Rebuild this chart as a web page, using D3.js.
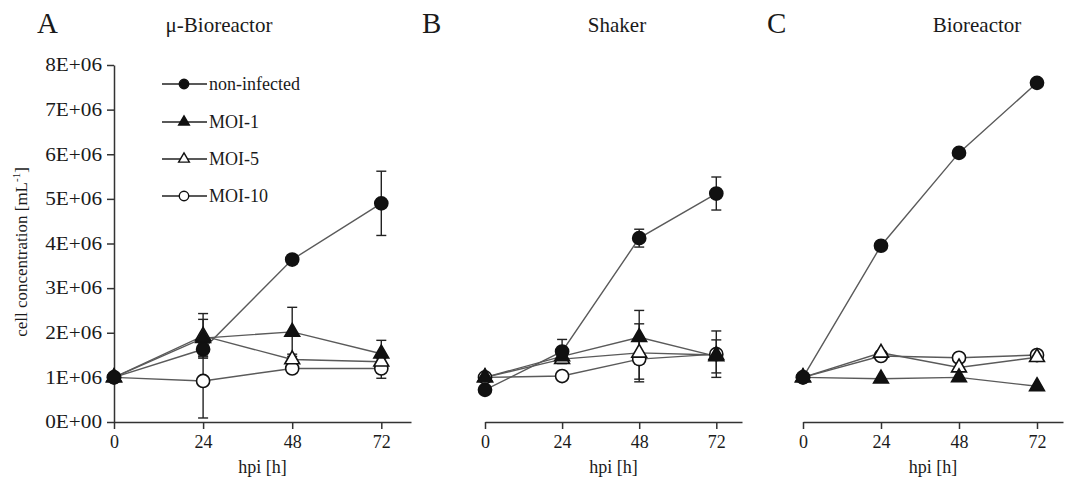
<!DOCTYPE html>
<html>
<head>
<meta charset="utf-8">
<script src="https://cdn.jsdelivr.net/npm/d3@7"></script>
<style>
  body { margin: 0; background: #fff; }
  svg text { font-family: "Liberation Serif", "Times New Roman", serif; fill: #1a1a1a; }
</style>
</head>
<body>
<svg id="chart" width="1068" height="483"></svg>
<script>
// time points (hours post infection)
let hours = [0, 24, 48, 72];
let seriesNames = ['non-infected', 'MOI-1', 'MOI-5', 'MOI-10'];
let panelLetters = ['A', 'B', 'C'];
let panelTitles = ['\u03bc-Bioreactor', 'Shaker', 'Bioreactor'];
let yTicks = [0, 1e6, 2e6, 3e6, 4e6, 5e6, 6e6, 7e6, 8e6];

// cell concentration, values in 1E+06 / mL, one array per panel and series
let microNonInf = [1.0, 1.63, 3.64, 4.9];
let microMoi1 = [1.0, 1.88, 2.02, 1.53];
let microMoi5 = [1.0, 1.93, 1.4, 1.35];
let microMoi10 = [1.0, 0.92, 1.2, 1.2];
let shakerNonInf = [0.72, 1.58, 4.12, 5.12];
let shakerMoi1 = [1.0, 1.47, 1.9, 1.47];
let shakerMoi5 = [1.0, 1.41, 1.55, 1.5];
let shakerMoi10 = [1.0, 1.03, 1.41, 1.52];
let bioNonInf = [1.0, 3.95, 6.03, 7.6];
let bioMoi1 = [1.0, 0.97, 1.0, 0.8];
let bioMoi5 = [1.0, 1.55, 1.22, 1.45];
let bioMoi10 = [1.0, 1.48, 1.44, 1.5];

// standard deviations (same units), 0 = no visible bar
let microNonInfErr = [0, 0.15, 0.1, 0.72];
let microMoi1Err = [0, 0.42, 0.55, 0.3];
let microMoi5Err = [0, 0.5, 0.12, 0];
let microMoi10Err = [0, 0.83, 0.05, 0.22];
let shakerNonInfErr = [0, 0.27, 0.2, 0.37];
let shakerMoi1Err = [0, 0.12, 0.6, 0.37];
let shakerMoi5Err = [0, 0, 0.65, 0];
let shakerMoi10Err = [0, 0, 0.45, 0.52];
let bioNonInfErr = [0, 0, 0, 0];
let bioMoi1Err = [0, 0, 0, 0];
let bioMoi5Err = [0, 0, 0, 0];
let bioMoi10Err = [0, 0, 0, 0];

let panelValues = [
    [microNonInf, microMoi1, microMoi5, microMoi10],
    [shakerNonInf, shakerMoi1, shakerMoi5, shakerMoi10],
    [bioNonInf, bioMoi1, bioMoi5, bioMoi10]
];
let panelErrors = [
    [microNonInfErr, microMoi1Err, microMoi5Err, microMoi10Err],
    [shakerNonInfErr, shakerMoi1Err, shakerMoi5Err, shakerMoi10Err],
    [bioNonInfErr, bioMoi1Err, bioMoi5Err, bioMoi10Err]
];

// marker style per series
let markerShape = [d3.symbolCircle, d3.symbolTriangle, d3.symbolTriangle, d3.symbolCircle];
let markerFill = ['#111', '#111', '#fff', '#fff'];

let svg = d3.select('#chart');

// panel placement in pixels
let panelLeft = [114, 485, 803];
let panelWidth = [297, 257, 260];
let plotTop = 65;
let plotBottom = 422;

let y = d3.scaleLinear().domain([0, 8e6]).range([plotBottom, plotTop]);

let fmtY = (d) => d === 0 ? '0E+00' : (d / 1e6) + 'E+06';

panelTitles.forEach((title, p) => {
    let x = d3.scaleLinear().domain([0, 80]).range([panelLeft[p], panelLeft[p] + panelWidth[p]]);
    let g = svg.append('g');

    // x axis
    let xAxis = g.append('g')
        .attr('transform', `translate(0,${plotBottom})`)
        .call(d3.axisBottom(x).tickValues(hours).tickSizeInner(7).tickSizeOuter(0).tickPadding(6));
    xAxis.select('.domain').attr('stroke', '#333').attr('stroke-width', 1.5);
    xAxis.selectAll('.tick line').attr('stroke', '#333').attr('stroke-width', 1.5);
    xAxis.selectAll('.tick text').attr('font-size', 18).attr('font-family', '"Liberation Serif", serif').attr('fill', '#1a1a1a');

    // y axis only on the first panel
    if (p === 0) {
        let yAxis = g.append('g')
            .attr('transform', `translate(${panelLeft[p]},0)`)
            .call(d3.axisLeft(y).tickValues(yTicks).tickFormat(fmtY).tickSizeInner(7).tickSizeOuter(0).tickPadding(5));
        yAxis.select('.domain').attr('stroke', '#333').attr('stroke-width', 1.5);
        yAxis.selectAll('.tick line').attr('stroke', '#333').attr('stroke-width', 1.5);
        yAxis.selectAll('.tick text')
            .attr('font-size', 18)
            .attr('font-family', '"Liberation Serif", serif')
            .attr('fill', '#1a1a1a')
            .each(function () {
                // the source labels are a bit wider than the font
                let w = this.getComputedTextLength();
                d3.select(this).attr('textLength', w * 1.18).attr('lengthAdjust', 'spacingAndGlyphs');
            });
    }

    // x axis title
    g.append('text')
        .attr('x', x(40))
        .attr('y', 473)
        .attr('text-anchor', 'middle')
        .attr('font-size', 18)
        .text('hpi [h]');

    // panel letter and title
    g.append('text')
        .attr('x', [37, 422, 767][p])
        .attr('y', 33)
        .attr('font-size', 29)
        .text(panelLetters[p]);
    g.append('text')
        .attr('x', [219, 617, 977][p])
        .attr('y', 32)
        .attr('text-anchor', 'middle')
        .attr('font-size', 21)
        .text(title);

    let line = d3.line()
        .x((d, i) => x(hours[i]))
        .y((d) => y(d * 1e6));

    // lines
    panelValues[p].forEach((vals) => {
        g.append('path')
            .datum(vals)
            .attr('fill', 'none')
            .attr('stroke', '#5a5a5a')
            .attr('stroke-width', 1.4)
            .attr('d', line);
    });

    // error bars
    panelValues[p].forEach((vals, s) => {
        let errs = panelErrors[p][s];
        vals.forEach((v, i) => {
            if (!errs[i]) return;
            let cx = x(hours[i]);
            let hi = y((v + errs[i]) * 1e6);
            let lo = y((v - errs[i]) * 1e6);
            let eb = g.append('g').attr('stroke', '#222').attr('stroke-width', 1.4);
            eb.append('line').attr('x1', cx).attr('x2', cx).attr('y1', hi).attr('y2', lo);
            eb.append('line').attr('x1', cx - 5).attr('x2', cx + 5).attr('y1', hi).attr('y2', hi);
            eb.append('line').attr('x1', cx - 5).attr('x2', cx + 5).attr('y1', lo).attr('y2', lo);
        });
    });

    // markers, drawn from last series to first so filled ones sit on top
    [3, 2, 1, 0].forEach((s) => {
        let shape = d3.symbol().type(markerShape[s]).size(markerShape[s] === d3.symbolCircle ? 135 : 95);
        g.selectAll(null)
            .data(panelValues[p][s])
            .enter()
            .append('path')
            .attr('d', shape)
            .attr('transform', (d, i) => `translate(${x(hours[i])},${y(d * 1e6)})`)
            .attr('fill', markerFill[s])
            .attr('stroke', '#111')
            .attr('stroke-width', 1.6);
    });
});

// y axis title
svg.append('text')
    .attr('transform', 'translate(27,252) rotate(-90)')
    .attr('text-anchor', 'middle')
    .attr('font-size', 17)
    .call((t) => {
        t.append('tspan').text('cell concentration [mL');
        t.append('tspan').attr('font-size', 11).attr('dy', -7).text('-1');
        t.append('tspan').attr('dy', 7).text(']');
    });

// legend inside panel A
let legendY = [84, 122, 159, 196];
seriesNames.forEach((name, s) => {
    let lg = svg.append('g').attr('transform', `translate(162,${legendY[s]})`);
    lg.append('line').attr('x1', 0).attr('x2', 45).attr('y1', 0).attr('y2', 0)
        .attr('stroke', '#222').attr('stroke-width', 1.4);
    lg.append('path')
        .attr('d', d3.symbol().type(markerShape[s]).size(markerShape[s] === d3.symbolCircle ? 70 : 50))
        .attr('transform', 'translate(22,0)')
        .attr('fill', markerFill[s])
        .attr('stroke', '#111')
        .attr('stroke-width', 1.4);
    lg.append('text')
        .attr('x', 47)
        .attr('y', 6)
        .attr('font-size', 18)
        .text(name);
});
</script>
</body>
</html>
